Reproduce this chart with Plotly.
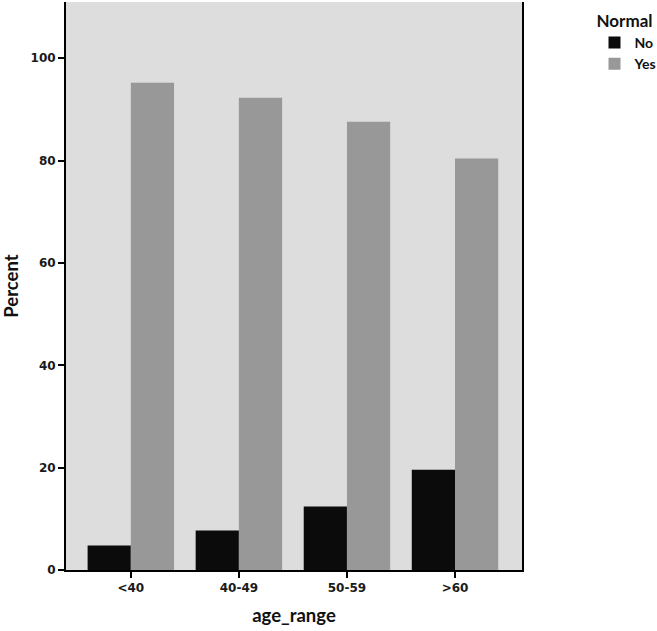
import plotly.graph_objects as go

categories = ["<40", "40-49", "50-59", ">60"]
no_values = [4.8, 7.7, 12.4, 19.6]
yes_values = [95.2, 92.3, 87.6, 80.4]
y_ticks = [0, 20, 40, 60, 80, 100]

fig = go.Figure()
fig.add_trace(go.Bar(x=categories, y=no_values, name="No",
                     marker=dict(color="#0b0b0b", line=dict(width=0))))
fig.add_trace(go.Bar(x=categories, y=yes_values, name="Yes",
                     marker=dict(color="#989898", line=dict(width=0))))

tick_font = dict(family="DejaVu Sans", size=12, color="#1a1a1a", weight="bold")
title_font = dict(family="Lato", size=18.5, color="#111111", weight="bold")

fig.update_layout(
    width=657, height=631,
    margin=dict(l=66, r=135, t=2, b=61, autoexpand=False),
    paper_bgcolor="white",
    plot_bgcolor="#dddddd",
    barmode="group",
    bargap=0.2,
    bargroupgap=0,
    showlegend=True,
    legend=dict(
        x=1.159, xanchor="left", y=0.995, yanchor="top",
        title=dict(text="Normal", font=dict(family="Lato", size=17, color="#111111", weight="bold")),
        font=dict(family="Lato", size=14, color="#111111", weight="bold"),
        bgcolor="rgba(0,0,0,0)",
        tracegroupgap=0,
        itemwidth=30,
    ),
    xaxis=dict(
        range=[-0.6, 3.62],
        showgrid=False, zeroline=False,
        showline=True, linecolor="black", linewidth=2,
        ticks="outside", ticklen=6, tickwidth=2, tickcolor="black",
        tickfont=tick_font,
        title=dict(text="age_range", font=title_font, standoff=15),
    ),
    yaxis=dict(
        range=[0, 111],
        tickvals=y_ticks,
        showgrid=False, zeroline=False,
        showline=True, mirror=True, linecolor="black", linewidth=2,
        ticks="outside", ticklen=6, tickwidth=2, tickcolor="black",
        tickfont=tick_font,
        title=dict(text="Percent", font=title_font, standoff=12),
    ),
)

fig.write_html("out.html", config={"displayModeBar": False},
               post_script="document.body.style.margin='0';")
